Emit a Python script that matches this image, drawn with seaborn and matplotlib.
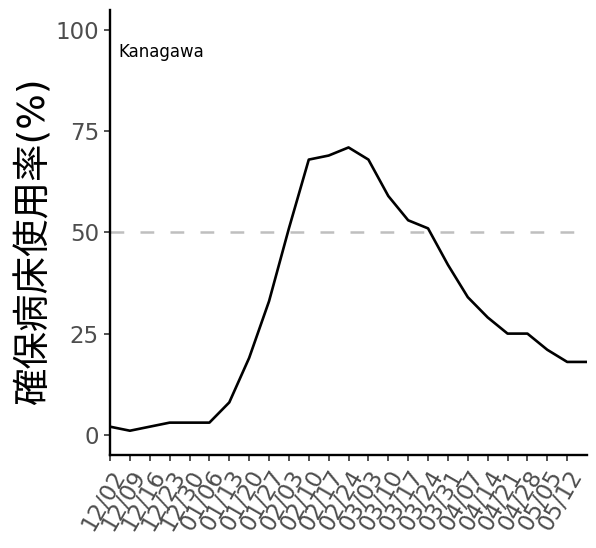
import pandas as pd
import numpy as np
import matplotlib.pyplot as plt
import matplotlib.dates as mdates
import seaborn as sns

# weekly bed occupancy, Kanagawa
dates = pd.date_range("2020-12-02", periods=25, freq="7D")
occupancy = [2, 1, 2, 3, 3, 3, 8, 19, 33, 51, 68, 69, 71, 68, 59, 53, 51, 42, 34, 29, 25, 25, 21, 18, 18]
tick_dates = pd.date_range("2020-12-02", "2021-05-12", freq="7D")
y_ticks = [0, 25, 50, 75, 100]

df = pd.DataFrame({"date": dates, "rate": occupancy})

sns.set_theme(style="ticks")
plt.rcParams['font.family'] = ['DejaVu Sans', 'Noto Sans CJK JP']

fig = plt.figure(figsize=(5.96, 5.48), dpi=100)
ax = fig.add_axes([0.1846, 0.1697, 0.8004, 0.8123])

ax.axhline(50, color="#bfbfbf", lw=1.8, ls=(0, (5.5, 6.5)), zorder=1)
sns.lineplot(data=df, x="date", y="rate", color="black", lw=1.9, ax=ax, zorder=2)

ax.set_xlim(dates[0], dates[-1])
ax.set_ylim(-5, 105)
ax.set_yticks(y_ticks)
ax.set_xticks(tick_dates)
ax.xaxis.set_major_formatter(mdates.DateFormatter("%m/%d"))
plt.setp(ax.get_xticklabels(), rotation=60, ha="right", va="top", rotation_mode="anchor")

ax.tick_params(axis="both", colors="#333333", labelcolor="#4d4d4d", labelsize=16.5,
               length=4, width=1.2, pad=4)
for side in ["top", "right"]:
    ax.spines[side].set_visible(False)
for side in ["left", "bottom"]:
    ax.spines[side].set_linewidth(1.7)
    ax.spines[side].set_color("black")

ax.set_xlabel("")
ax.set_ylabel("確保病床使用率(%)", fontsize=27, color="black", labelpad=2)
ax.yaxis.label.set_y(0.48)
ax.text(0.017, 0.906, "Kanagawa", transform=ax.transAxes, fontsize=12,
        ha="left", va="center", color="black")

fig.savefig("out.png", dpi=100)
